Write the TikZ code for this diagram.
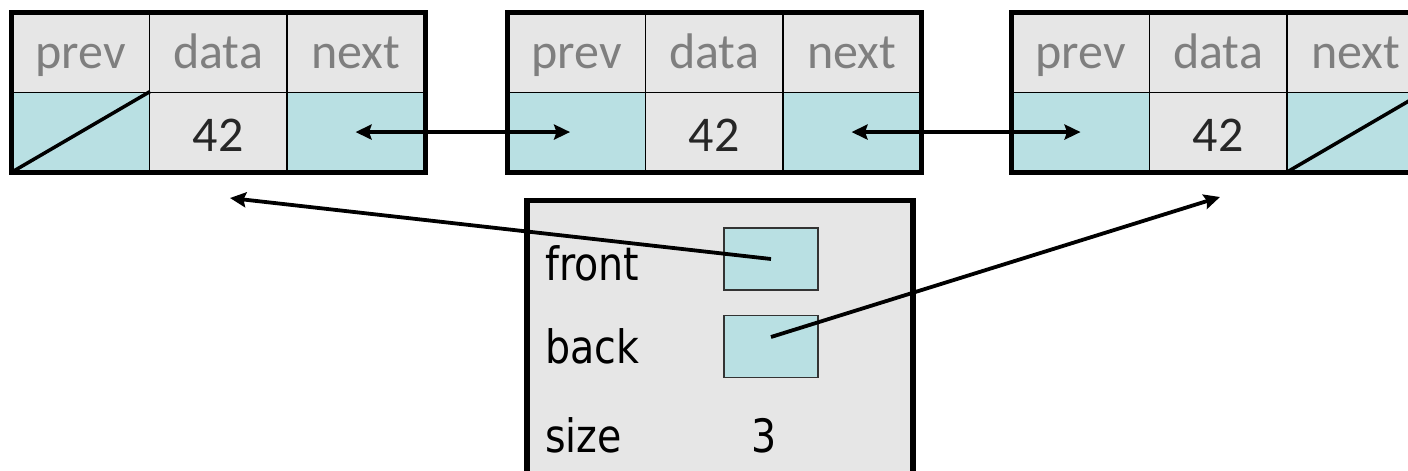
\documentclass[tikz,border=0pt]{standalone}
\usepackage{fontspec}
\setmainfont{Carlito}
\newfontfamily\fieldfont[FakeStretch=0.86]{DejaVu Sans}
\usetikzlibrary{arrows.meta}

\definecolor{cellgray}{HTML}{E6E6E6}
\definecolor{cellteal}{HTML}{B9E0E3}
\definecolor{captiongray}{HTML}{7F7F7F}
\definecolor{valueink}{HTML}{262626}
\definecolor{boxedge}{HTML}{333333}

\tikzset{
  cell/.style={draw=black, line width=1.6pt, minimum width=137.5pt,
    minimum height=79.5pt, inner sep=0pt, anchor=north west},
  headcell/.style={cell, fill=cellgray, text=captiongray,
    font=\fontsize{50}{50}\selectfont, text height=36pt, text depth=4.5pt},
  ptrcell/.style={cell, fill=cellteal},
  datacell/.style={cell, fill=cellgray, text=valueink,
    font=\fontsize{50}{50}\selectfont, text height=40pt, text depth=2pt},
  frame/.style={draw=black, line width=5pt},
  nullslash/.style={draw=black, line width=3.5pt},
  link/.style={line width=3.8pt, {Stealth[length=16pt, width=15pt, inset=2.5pt]}-{Stealth[length=16pt, width=15pt, inset=2.5pt]}},
  ref/.style={line width=3.8pt, -{Stealth[length=16pt, width=15pt, inset=2.5pt]}},
  fieldbox/.style={draw=boxedge, line width=1.6pt, fill=cellteal,
    minimum width=94pt, minimum height=62pt, inner sep=0pt},
  fieldlabel/.style={anchor=base west, inner sep=0pt,
    font=\fieldfont\fontsize{46}{46}\selectfont},
}

% one doubly linked list node: #1 name prefix, #2 left edge
\newcommand\listnode[2]{%
  \node[headcell] (#1p) at ({#2},12) {prev};
  \node[headcell] (#1d) at ({#2+137.5},12) {data};
  \node[headcell] (#1n) at ({#2+275},12) {next};
  \node[ptrcell] (#1pv) at ({#2},91.5) {};
  \node[datacell] (#1dv) at ({#2+137.5},91.5) {42};
  \node[ptrcell] (#1nv) at ({#2+275},91.5) {};
  \draw[frame] (#1p.north west) rectangle (#1nv.south east);
}

\begin{document}
\begin{tikzpicture}[x=1pt, y=-1pt]
  \useasboundingbox (0,0) rectangle (1408,471);
  \clip (0,0) rectangle (1408,471);

  % list nodes
  \listnode{a}{11}
  \listnode{b}{507}
  \listnode{c}{1011}

  % null pointers
  \draw[nullslash] (apv.south west) -- (apv.north east);
  \draw[nullslash] (cnv.south west) -- (cnv.north east);

  % prev/next links
  \draw[link] (anv.center) -- ([xshift=-6.5pt]bpv.center);
  \draw[link] (bnv.center) -- (cpv.center);

  % list object
  \node[draw=black, line width=5.5pt, fill=cellgray, minimum width=386pt,
    minimum height=320pt, inner sep=0pt, anchor=north west] (listobj) at (524,197.5) {};
  \node[fieldbox] (frontbox) at (771,259) {};
  \node[fieldbox] (backbox) at (771,346.5) {};
  \node[fieldlabel] (frontlbl) at (545,280) {front};
  \node[fieldlabel] (backlbl) at (545,363) {back};
  \node[fieldlabel] (sizelbl) at (545,452) {size};
  \node[fieldlabel] (sizeval) at (751,452) {3};

  % front and back references
  \coordinate (fronttip) at (230,198);
  \coordinate (backtip) at (1220,197);
  \draw[ref] (frontbox.center) -- (fronttip);
  \draw[ref] ([yshift=9.5pt]backbox.center) -- (backtip);
\end{tikzpicture}
\end{document}
